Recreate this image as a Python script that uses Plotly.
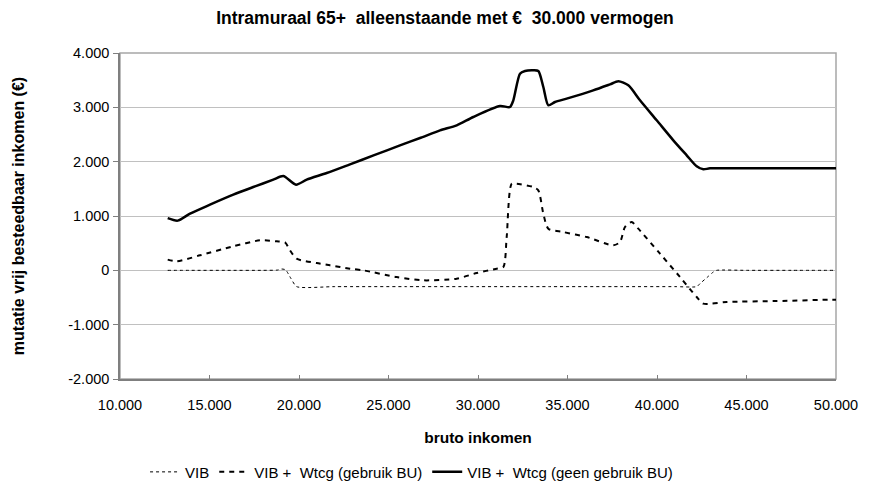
import plotly.graph_objects as go

# VIB (dotted)
vib_x = [12665, 14000, 16000, 18000, 18800, 19030, 19250, 19550, 19870, 22000, 26000, 30000, 34000, 38000, 41000, 42218, 42400, 42800, 43145, 43335, 45000, 47500, 50000]
vib_y = [0, 0, 0, 0, 5, 24, 10, -150, -300, -300, -300, -300, -300, -300, -300, -300, -245, -130, -31, 0, 0, 0, 0]

# VIB + Wtcg (gebruik BU) (dashed)
bu_x = [12665, 13167, 14469, 16330, 17821, 18753, 19218, 19497, 19870, 20987, 21732, 22849, 23592, 25456, 26944, 28810, 29927, 31044, 31415, 31602, 31881, 32160, 33090, 33370, 33650, 33929, 34767, 36071, 37559, 37933, 38212, 38585, 38956, 40168, 41285, 42218, 42587, 43890, 46683, 49754, 50000]
bu_y = [197, 166, 276, 442, 552, 534, 515, 368, 215, 134, 92, 31, 0, -123, -184, -153, -49, 31, 61, 613, 1595, 1595, 1533, 1472, 1043, 767, 705, 613, 460, 521, 797, 889, 767, 307, -123, -491, -613, -583, -565, -540, -540]

# VIB + Wtcg (geen gebruik BU) (solid)
geen_x = [12665, 13223, 13911, 15028, 16330, 17447, 18564, 19123, 19832, 20430, 21547, 22849, 24200, 25642, 26800, 27877, 28810, 29738, 31229, 31788, 31974, 32346, 32626, 33090, 33370, 33650, 33930, 34302, 34954, 36436, 37374, 37840, 38397, 39050, 39983, 40912, 41659, 42218, 42587, 42961, 46000, 50000]
geen_y = [960, 915, 1043, 1209, 1393, 1533, 1669, 1736, 1577, 1669, 1791, 1951, 2120, 2300, 2440, 2577, 2669, 2822, 3024, 3006, 3129, 3620, 3669, 3681, 3669, 3374, 3037, 3098, 3160, 3313, 3423, 3479, 3405, 3129, 2761, 2393, 2117, 1914, 1859, 1877, 1877, 1877]

y_ticks = [-2000, -1000, 0, 1000, 2000, 3000, 4000]
y_ticktext = ["-2.000", "-1.000", "0", "1.000", "2.000", "3.000", "4.000"]
x_ticks = [10000, 15000, 20000, 25000, 30000, 35000, 40000, 45000, 50000]
x_ticktext = ["10.000", "15.000", "20.000", "25.000", "30.000", "35.000", "40.000", "45.000", "50.000"]

font_reg = "Liberation Sans, Arial, sans-serif"

fig = go.Figure()
fig.add_trace(go.Scatter(x=vib_x, y=vib_y, mode="lines", name="VIB",
                         line=dict(color="black", width=1, dash="dot", shape="spline", smoothing=0.6)))
fig.add_trace(go.Scatter(x=bu_x, y=bu_y, mode="lines", name="VIB +  Wtcg (gebruik BU)",
                         line=dict(color="black", width=2, dash="5px,5px", shape="spline", smoothing=0.7)))
fig.add_trace(go.Scatter(x=geen_x, y=geen_y, mode="lines", name="VIB +  Wtcg (geen gebruik BU)",
                         line=dict(color="black", width=2.5, shape="spline", smoothing=0.7)))

fig.update_layout(
    width=874, height=487,
    margin=dict(l=112, r=46, t=45, b=116, autoexpand=False),
    paper_bgcolor="white", plot_bgcolor="white",
    title=dict(text="<b>Intramuraal 65+  alleenstaande met €  30.000 vermogen</b>",
               x=0.5, xanchor="center", y=0.98, yanchor="middle",
               font=dict(family=font_reg, size=17.5, color="black")),
    showlegend=True,
    legend=dict(orientation="h", x=0.035, xanchor="left", y=-0.235, yanchor="top",
                font=dict(family=font_reg, size=15, color="black"),
                itemwidth=30, tracegroupgap=0, bgcolor="rgba(0,0,0,0)"),
    shapes=[dict(type="rect", xref="paper", yref="paper", x0=0, y0=0, x1=1, y1=1,
                 line=dict(color="#a6a6a6", width=1.5), layer="below")],
)
fig.update_xaxes(range=[10000, 50000], tickvals=x_ticks, ticktext=x_ticktext, automargin=False,
                 showgrid=False, zeroline=False, showline=True, linecolor="#7f7f7f", linewidth=1.5,
                 ticks="inside", ticklen=4, tickcolor="#7f7f7f", ticklabelstandoff=12,
                 tickfont=dict(family=font_reg, size=14.5, color="black"),
                 title=dict(text="<b>bruto inkomen</b>", font=dict(family=font_reg, size=15.5, color="black"), standoff=20))
fig.update_yaxes(range=[-2000, 4000], tickvals=y_ticks, ticktext=y_ticktext, automargin=False,
                 showgrid=True, gridcolor="#c0c0c0", gridwidth=1, zeroline=False,
                 showline=True, linecolor="#7f7f7f", linewidth=1.5,
                 ticks="outside", ticklen=5, tickcolor="#7f7f7f", ticklabelstandoff=1,
                 tickfont=dict(family=font_reg, size=14.5, color="black"),
                 title=dict(text="<b>mutatie vrij besteedbaar inkomen (€)</b>", font=dict(family=font_reg, size=16, color="black"), standoff=40))

fig.write_html("out.html")
